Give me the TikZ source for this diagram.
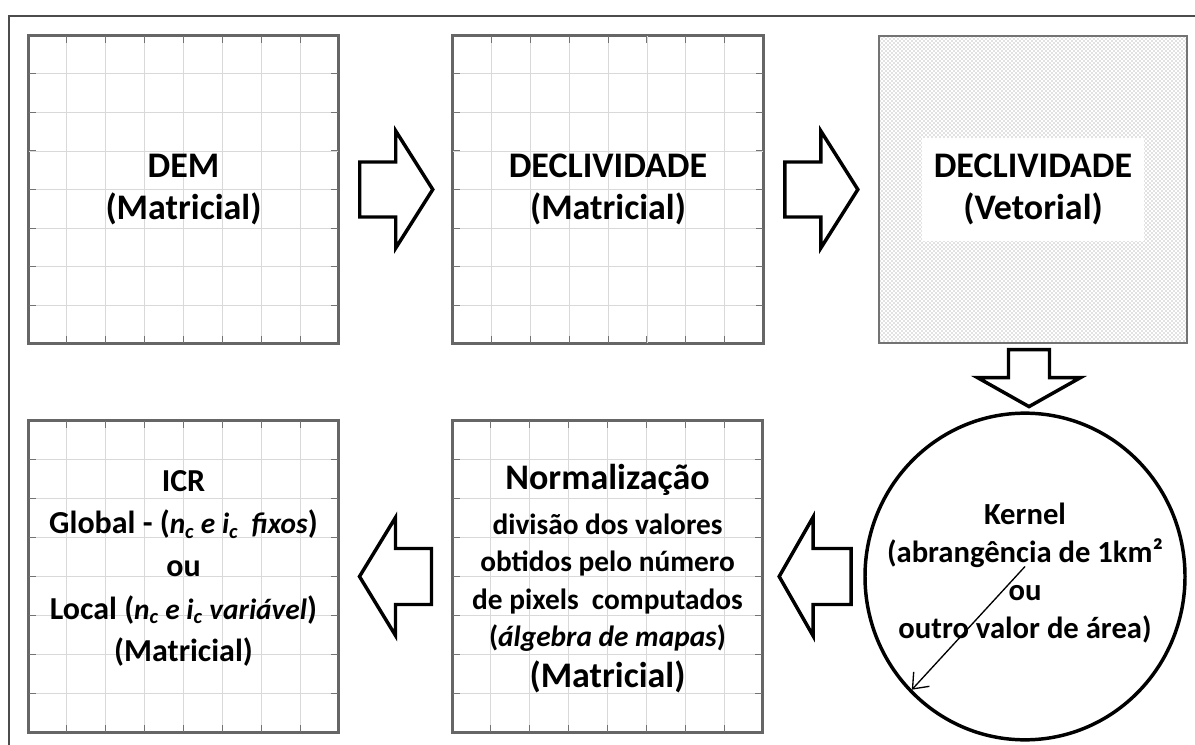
\documentclass[tikz,border=0pt]{standalone}
\usepackage{fontspec}
\setmainfont{Carlito}
\usetikzlibrary{calc,patterns,arrows.meta,shapes.geometric}
\tikzset{
  mapbox/.style={draw=black!60, line width=1.4pt, fill=white, inner sep=0pt,
                 minimum width=232pt, minimum height=#1},
  gridl/.style={draw=black!15, line width=0.6pt},
  tickl/.style={draw=black!55, line width=0.7pt},
  blockarr/.style={draw=black, line width=2.6pt, fill=white, line join=miter, miter limit=10},
  lbl/.style={align=center, text=black, inner sep=0pt},
  bigfont/.style={font=\fontsize{27}{31.5}\selectfont\bfseries},
  framel/.style={draw=black!70, line width=2pt},
}
\newcommand{\mygrid}[1]{%
  \foreach \i in {1,...,7}{%
    \draw[gridl] ($(#1.north west)!\i/8!(#1.north east)$) -- ($(#1.south west)!\i/8!(#1.south east)$);
    \draw[gridl] ($(#1.north west)!\i/8!(#1.south west)$) -- ($(#1.north east)!\i/8!(#1.south east)$);
    \draw[tickl] ($(#1.north west)!\i/8!(#1.north east)$) -- ++(0,8);
    \draw[tickl] ($(#1.south west)!\i/8!(#1.south east)$) -- ++(0,-8);
    \draw[tickl] ($(#1.north west)!\i/8!(#1.south west)$) -- ++(8,0);
    \draw[tickl] ($(#1.north east)!\i/8!(#1.south east)$) -- ++(-8,0);
  }%
  \draw[draw=black!60, line width=1.4pt] (#1.north west) rectangle (#1.south east);
}
\begin{document}
\begin{tikzpicture}[x=0.75pt,y=-0.75pt]
\useasboundingbox (0,0) rectangle (1195,745);
% outer frame
\draw[framel] (1195,16) -- (9,16) -- (9,745);

% row 1 boxes
\node[mapbox=230pt] (dem)   at (183.5,189.5) {};
\mygrid{dem}
\node[mapbox=230pt] (declm) at (608,189.5) {};
\mygrid{declm}
\node[draw=black!55, line width=1.4pt, inner sep=0pt, minimum width=231pt, minimum height=230pt,
      pattern=crosshatch dots, pattern color=black!50] (declv) at (1033,189.5) {};

% row 2 boxes
\node[mapbox=233pt] (icr)  at (183.5,576.5) {};
\mygrid{icr}
\node[mapbox=233pt] (norm) at (607.5,576.5) {};
\mygrid{norm}

% kernel circle
\node[ellipse, draw=black, line width=2.6pt, fill=white, minimum width=240pt, minimum height=245pt,
      inner sep=0pt] (kernel) at (1025,576.5) {};

% labels
\node[lbl, bigfont] (tdem) at (dem.center) {DEM\\(Matricial)};
\node[lbl, bigfont] (tdeclm) at (declm.center) {DECLIVIDADE\\(Matricial)};
\node[lbl, bigfont, fill=white, inner xsep=9pt, inner ysep=12pt] (tdeclv) at (declv.center) {DECLIVIDADE\\(Vetorial)};

\node[lbl, font=\fontsize{22}{28}\selectfont\bfseries] (tnorm) at ($(norm.center)+(0,2)$)
  {{\fontsize{27}{28}\selectfont Normalização}\\[6pt]
   divisão dos valores\\
   obtidos pelo número\\
   de pixels\ \ computados\\
   (\textit{álgebra de mapas})\\[3pt]
   {\fontsize{27}{28}\selectfont (Matricial)}};

\node[lbl, font=\fontsize{24}{32}\selectfont\bfseries] (ticr) at ($(icr.center)+(0,-8)$)
  {ICR\\
   Global - ({\fontsize{22}{32}\selectfont\itshape n\textsubscript{c} e i\textsubscript{c}\ \ fixos})\\
   ou\\
   Local ({\fontsize{22}{32}\selectfont\itshape n\textsubscript{c} e i\textsubscript{c} variável})\\
   (Matricial)};

\node[lbl, font=\fontsize{23}{28.5}\selectfont\bfseries] (tkernel) at ($(kernel.center)+(0,-3)$)
  {Kernel\\(abrangência de 1km²\\ou\\outro valor de área)};

% radius arrow in kernel
\coordinate (kr0) at ($(kernel.center)+(0,-10)$);
\coordinate (kr1) at ($(kernel.center)!0.98!(kernel.225)$);
\draw[line width=1pt, -{Straight Barb[length=10pt,width=16pt,line width=1pt]}] (kr0) -- (kr1);

% block arrows
\coordinate (m1) at ($(dem.east)!0.5!(declm.west)$);
\coordinate (m2) at ($(declm.east)!0.5!(declv.west)$);
\coordinate (m3) at ($(declv.south)!0.5!(kernel.north)$);
\coordinate (m4) at ($(norm.east)!0.5!(kernel.west)$);
\coordinate (m5) at ($(icr.east)!0.5!(norm.west)$);

\draw[blockarr, shift={(m1)}] (-36,-27.5) -- (0,-27.5) -- (0,-58.5) -- (37,0) -- (0,58.5) -- (0,27.5) -- (-36,27.5) -- cycle;
\draw[blockarr, shift={(m2)}] (-36,-27.5) -- (0,-27.5) -- (0,-58.5) -- (37,0) -- (0,58.5) -- (0,27.5) -- (-36,27.5) -- cycle;
\draw[blockarr, shift={(m4)}] (38,-28) -- (0,-28) -- (0,-59.5) -- (-34,0) -- (0,59.5) -- (0,28) -- (38,28) -- cycle;
\draw[blockarr, shift={(m5)}] (36,-28) -- (0,-28) -- (0,-59) -- (-36,0) -- (0,59) -- (0,28) -- (36,28) -- cycle;
\draw[blockarr, shift={(m3)}] (-20.5,-28) -- (20.5,-28) -- (20.5,0) -- (51.5,0) -- (0,29) -- (-51.5,0) -- (-20.5,0) -- cycle;
\end{tikzpicture}
\end{document}
